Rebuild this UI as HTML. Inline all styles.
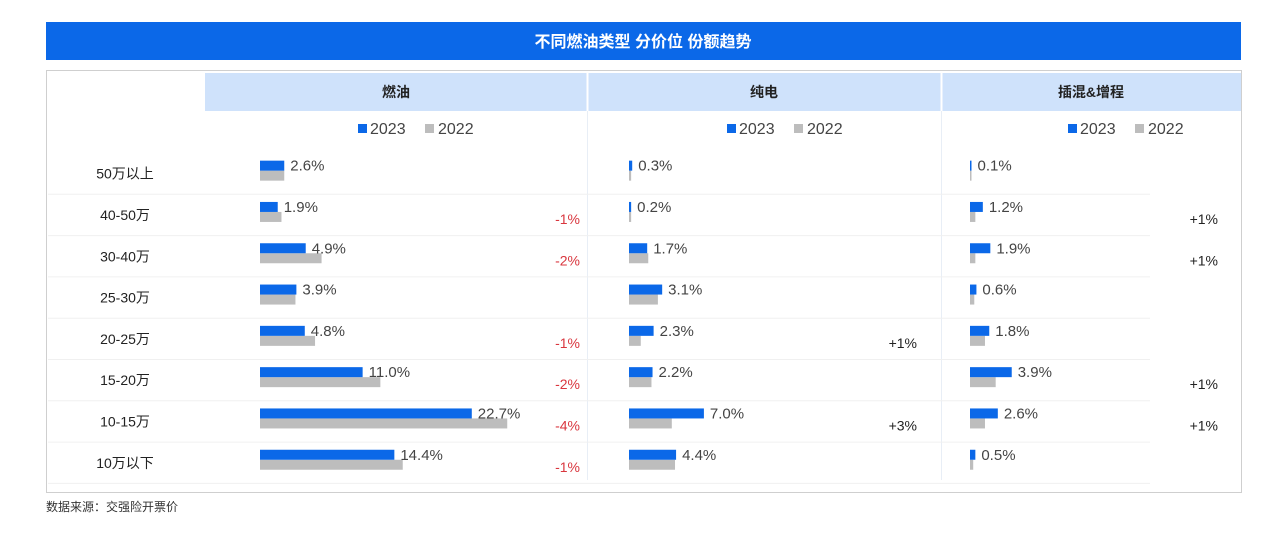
<!DOCTYPE html>
<html><head><meta charset="utf-8">
<style>
body{margin:0;width:1269px;height:535px;background:#fff;overflow:hidden;font-family:"Liberation Sans","Noto Sans CJK SC",sans-serif;}
svg text{font-family:"Liberation Sans","Noto Sans CJK SC",sans-serif;}
</style></head>
<body>
<svg id="chart" width="1269" height="535">
<rect x="46" y="22" width="1195" height="38" fill="#0b68e8"/>
<text x="643" y="47" text-anchor="middle" fill="#fff" font-size="16" font-weight="bold">不同燃油类型 分价位 份额趋势</text>
<rect x="46.5" y="70.5" width="1195" height="422" fill="#fff" stroke="#cfcfcf"/>
<rect x="205" y="73" width="1036" height="38" fill="#cfe2fb"/>
<line x1="587.5" y1="73" x2="587.5" y2="480" stroke="#e8eef6"/>
<line x1="941.5" y1="73" x2="941.5" y2="480" stroke="#e8eef6"/>
<line x1="587.5" y1="73" x2="587.5" y2="111" stroke="#fff" stroke-width="2"/>
<line x1="941.5" y1="73" x2="941.5" y2="111" stroke="#fff" stroke-width="2"/>
<g id="g"></g>
<text x="46" y="511" font-size="12" fill="#333">数据来源：交强险开票价</text>
</svg>
<script>
const categories=['50万以上','40-50万','30-40万','25-30万','20-25万','15-20万','10-15万','10万以下'];
const panels=['燃油','纯电','插混&增程'];
const fuel2023=[2.6,1.9,4.9,3.9,4.8,11.0,22.7,14.4];
const fuel2022=[2.6,2.3,6.6,3.8,5.9,12.9,26.5,15.3];
const bev2023=[0.3,0.2,1.7,3.1,2.3,2.2,7.0,4.4];
const bev2022=[0.2,0.2,1.8,2.7,1.1,2.1,4.0,4.3];
const phev2023=[0.1,1.2,1.9,0.6,1.8,3.9,2.6,0.5];
const phev2022=[0.1,0.5,0.5,0.4,1.4,2.4,1.4,0.3];
const fuelDiff=['','-1%','-2%','','-1%','-2%','-4%','-1%'];
const bevDiff=['','','','','+1%','','+3%',''];
const phevDiff=['','+1%','+1%','','','+1%','+1%',''];

const NS='http://www.w3.org/2000/svg';
const g=document.getElementById('g');
function mk(tag,attrs,txt){const e=document.createElementNS(NS,tag);for(const k in attrs)e.setAttribute(k,attrs[k]);if(txt!==undefined)e.textContent=txt;g.appendChild(e);return e;}
const cfg=[
 {x0:260,scale:9.33,a:fuel2023,b:fuel2022,d:fuelDiff,dx:580,dc:'#d9363e',hx:396,lx:418},
 {x0:629,scale:10.7,a:bev2023,b:bev2022,d:bevDiff,dx:917,dc:'#222',hx:764,lx:787},
 {x0:970,scale:10.7,a:phev2023,b:phev2022,d:phevDiff,dx:1218,dc:'#222',hx:1091,lx:1128}
];
const rowTop=153,rowH=41.3;
function yRow(i){return rowTop+i*rowH;}
categories.forEach((c,i)=>{
  const y=yRow(i);
  const sep=mk('line',{x1:48,x2:1150,y1:y+rowH,y2:y+rowH,stroke:'#f0f0f0'});
  
  
  const t=mk('text',{x:125,y:y+rowH/2+5,'text-anchor':'middle','font-size':14,fill:'#222'},c);
  
  
});
cfg.forEach((p,pi)=>{
  const h=mk('text',{x:p.hx,y:97,'text-anchor':'middle','font-size':14,'font-weight':'bold',fill:'#222'},panels[pi]);
  
  
  const s1=mk('rect',{x:p.lx-60,y:124,width:9,height:9,fill:'#0b68e8'});
  
  
  const l1=mk('text',{x:p.lx-48,y:134,'font-size':16,fill:'#444'},'2023');
  
  
  const s2=mk('rect',{x:p.lx+7,y:124,width:9,height:9,fill:'#bdbdbd'});
  
  
  const l2=mk('text',{x:p.lx+20,y:134,'font-size':16,fill:'#444'},'2022');
  
  
  categories.forEach((c,i)=>{
    const cy=yRow(i)+rowH/2;
    const wa=Math.max(p.a[i]*p.scale,1.5), wb=Math.max(p.b[i]*p.scale,1.5);
    const gb=mk('rect',{x:p.x0,y:cy-3,width:wb,height:10,fill:'#bdbdbd'});
    
    
    const bb=mk('rect',{x:p.x0,y:cy-13,width:wa,height:10,fill:'#0b68e8'});
    
    
    const v=mk('text',{x:p.x0+wa+6,y:cy-3,'font-size':15,fill:'#444'},p.a[i].toFixed(1)+'%');
    
    
    if(p.d[i]){
      const d=mk('text',{x:p.dx,y:cy+9,'text-anchor':'end','font-size':14,fill:p.dc},p.d[i]);
      
      
    }
  });
});
</script>
</body></html>
